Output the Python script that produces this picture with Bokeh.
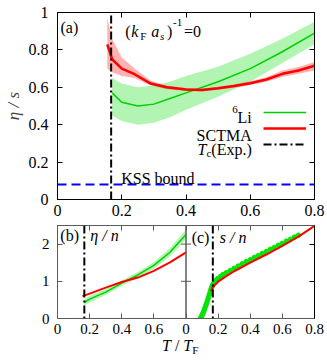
import numpy as np
from bokeh.plotting import figure
from bokeh.models import (Range1d, LinearAxis, FixedTicker, Span, Label, Legend,
                          LegendItem, PrintfTickFormatter, CustomJSTickFormatter, Div, Spacer)
from bokeh.layouts import column, row
from bokeh.embed import file_html
from bokeh.resources import INLINE

FONT = "Liberation Serif"
AXFONT = "'Liberation Serif', serif"

# ---------------- data ----------------
TC_EXP = 0.167
KSS_BOUND = 0.0796

# panel (a): eta/s
T_LI_A = [0.17, 0.20, 0.25, 0.30, 0.35, 0.40, 0.50, 0.60, 0.70, 0.80]
ETA_S_LI = [0.57, 0.52, 0.50, 0.51, 0.54, 0.57, 0.63, 0.70, 0.79, 0.89]
ETA_S_LI_LO = [0.45, 0.42, 0.40, 0.41, 0.44, 0.48, 0.55, 0.63, 0.73, 0.83]
ETA_S_LI_HI = [0.65, 0.62, 0.60, 0.61, 0.63, 0.66, 0.71, 0.78, 0.86, 0.95]

T_SC_A = [0.155, 0.17, 0.20, 0.24, 0.29, 0.34, 0.40, 0.45, 0.50, 0.55, 0.60, 0.65, 0.70, 0.75, 0.80]
ETA_S_SC = [0.83, 0.75, 0.70, 0.67, 0.62, 0.60, 0.588, 0.585, 0.595, 0.607, 0.622, 0.642, 0.672, 0.69, 0.715]
ETA_S_SC_LO = [0.70, 0.68, 0.66, 0.65, 0.61, 0.59, 0.58, 0.577, 0.587, 0.598, 0.612, 0.63, 0.655, 0.672, 0.69]
ETA_S_SC_HI = [0.97, 0.86, 0.76, 0.70, 0.635, 0.61, 0.596, 0.593, 0.603, 0.616, 0.632, 0.654, 0.69, 0.708, 0.735]

# panel (b): eta/n
T_LI_B = [0.167, 0.2, 0.3, 0.4, 0.5, 0.6, 0.7, 0.8]
ETA_N_LI = [0.43, 0.52, 0.71, 0.95, 1.17, 1.43, 1.78, 2.26]
ETA_N_LI_LO = [0.34, 0.43, 0.63, 0.88, 1.09, 1.34, 1.67, 2.13]
ETA_N_LI_HI = [0.52, 0.61, 0.79, 1.02, 1.25, 1.52, 1.89, 2.39]
T_SC_B = [0.155, 0.2, 0.3, 0.4, 0.5, 0.6, 0.7, 0.8]
ETA_N_SC = [0.60, 0.67, 0.83, 0.98, 1.10, 1.28, 1.51, 1.78]

# panel (c): s/n
T_SC_C = [0.155, 0.17, 0.2, 0.25, 0.3, 0.4, 0.5, 0.6, 0.7, 0.8]
S_N_SC = [0.74, 0.86, 0.99, 1.14, 1.27, 1.50, 1.72, 1.95, 2.20, 2.49]
T_LI_C = [0.090, 0.095, 0.100, 0.105, 0.110, 0.115, 0.120, 0.125, 0.130, 0.135,
          0.140, 0.145, 0.150, 0.155, 0.160, 0.165, 0.170, 0.180, 0.190, 0.200,
          0.215, 0.230, 0.250, 0.275, 0.300, 0.325, 0.350, 0.375, 0.400, 0.425,
          0.450, 0.475, 0.500, 0.525, 0.550, 0.575, 0.600, 0.625, 0.650, 0.675, 0.700]
S_N_LI = [0.00, 0.04, 0.09, 0.14, 0.19, 0.25, 0.31, 0.37, 0.43, 0.50,
          0.57, 0.64, 0.71, 0.78, 0.84, 0.89, 0.93, 0.99, 1.04, 1.08,
          1.13, 1.18, 1.23, 1.29, 1.35, 1.41, 1.47, 1.53, 1.58, 1.64,
          1.69, 1.75, 1.80, 1.86, 1.91, 1.97, 2.02, 2.08, 2.13, 2.19, 2.24]

X_TICKS = [0, 0.2, 0.4, 0.6, 0.8]
Y_TICKS_A = [0, 0.2, 0.4, 0.6, 0.8, 1]
Y_TICKS_BC = [0, 1, 2]
Y_MAX_BC = 2.5

# ---------------- style ----------------
GREEN = "#00d000"
GREEN_DOT = "#00e600"
RED = "#ff0000"
GRAY = "#5a5a5a"
TC_DASH = "8 3 2 3"

W = 327
# frame geometry (page pixels)
A_L, A_R, A_T, A_B = 56, 314, 12, 199
A_H = 225
B_L, B_R, B_T, B_B = 40, 314, 225, 318
B_H = 116
X_MAX = X_TICKS[-1]


def a_xy(px, py):
    return (px - A_L) / (A_R - A_L) * X_MAX, (A_B - py) / (A_B - A_T) * Y_TICKS_A[-1]


def bc_xy(px, py):
    return (px - B_L) / (B_R - B_L) * (2 * X_MAX), (B_B - py) / (B_B - B_T) * Y_MAX_BC


def lab(p, conv, px, py, text, size=16, style="normal", align="left", baseline="alphabetic"):
    x, y = conv(px, py)
    p.add_layout(Label(x=x, y=y, text=text, text_font=FONT, text_font_size=f"{size}px",
                       text_font_style=style, text_align=align, text_baseline=baseline,
                       text_color="black"))


def blank_axis(ticks, color):
    return LinearAxis(ticker=FixedTicker(ticks=ticks),
                      formatter=CustomJSTickFormatter(code="return ''"),
                      major_label_text_font_size="0px", major_label_standoff=0,
                      major_tick_in=5, major_tick_out=0, minor_tick_line_color=None,
                      axis_line_color=color, major_tick_line_color=color)


def style_axis(ax, size, color):
    ax.formatter = PrintfTickFormatter(format="%g")
    ax.major_label_text_font = AXFONT
    ax.major_label_text_font_size = size
    ax.major_label_text_color = "black"
    ax.major_tick_in = 5
    ax.major_tick_out = 0
    ax.minor_tick_line_color = None
    ax.axis_line_color = color
    ax.major_tick_line_color = color


# ---------------- panel (a) ----------------
pa = figure(width=W, height=A_H, x_range=Range1d(0, X_MAX), y_range=Range1d(0, Y_TICKS_A[-1]),
            output_backend="svg", toolbar_location=None,
            min_border_left=A_L, min_border_right=W - A_R,
            min_border_top=A_T, min_border_bottom=A_H - A_B)
pa.grid.visible = False
pa.outline_line_color = "black"
pa.xaxis.ticker = FixedTicker(ticks=X_TICKS)
pa.yaxis.ticker = FixedTicker(ticks=Y_TICKS_A)
style_axis(pa.xaxis[0], "16px", "black")
style_axis(pa.yaxis[0], "16px", "black")
pa.xaxis.major_label_standoff = 5
pa.yaxis.major_label_standoff = 9
pa.yaxis.axis_label = "η / s"
pa.yaxis.axis_label_text_font = AXFONT
pa.yaxis.axis_label_text_font_size = "17px"
pa.yaxis.axis_label_text_font_style = "italic"
pa.yaxis.axis_label_standoff = 3
pa.add_layout(blank_axis(X_TICKS, "black"), "above")
pa.add_layout(blank_axis(Y_TICKS_A, "black"), "right")

pa.varea(x=T_LI_A, y1=ETA_S_LI_LO, y2=ETA_S_LI_HI, fill_color="#00dd00", fill_alpha=0.3)
pa.varea(x=T_SC_A, y1=ETA_S_SC_LO, y2=ETA_S_SC_HI, fill_color=RED, fill_alpha=0.3)
g_a = pa.line(T_LI_A, ETA_S_LI, line_color=GREEN, line_width=1.5)
r_a = pa.line(T_SC_A, ETA_S_SC, line_color=RED, line_width=2.5)
pa.add_layout(Span(location=KSS_BOUND, dimension="width", line_color="#0000ff",
                   line_dash="9 5", line_width=2))
tc_a = pa.line([TC_EXP, TC_EXP], [Y_TICKS_A[0], Y_TICKS_A[-1]], line_color="black",
               line_dash=TC_DASH, line_width=2)

legend = Legend(items=[LegendItem(label=" ", renderers=[g_a]),
                       LegendItem(label=" ", renderers=[r_a]),
                       LegendItem(label=" ", renderers=[tc_a])],
                location=(262 - A_L, A_B - 152), glyph_width=43, glyph_height=16,
                label_width=0, label_height=16, label_standoff=0, spacing=0, padding=0,
                margin=0, border_line_color=None, background_fill_alpha=0,
                label_text_font_size="1px")
pa.add_layout(legend)

# texts in panel (a)
lab(pa, a_xy, 59, 27, "(a)")
lab(pa, a_xy, 124, 31, "(")
lab(pa, a_xy, 130, 31, "k", style="italic")
lab(pa, a_xy, 139, 35, "F", size=11)
lab(pa, a_xy, 150, 31, "a", style="italic")
lab(pa, a_xy, 159, 35, "s", size=11, style="italic")
lab(pa, a_xy, 166, 31, ")")
lab(pa, a_xy, 172, 22, "-1", size=11)
lab(pa, a_xy, 183, 31, "=0")
lab(pa, a_xy, 120, 178, "KSS bound")
lab(pa, a_xy, 251, 117, "Li", align="right")
lab(pa, a_xy, 237, 109, "6", size=11, align="right")
lab(pa, a_xy, 251, 134.5, "SCTMA", align="right")
lab(pa, a_xy, 251, 149, "(Exp.)", align="right")
lab(pa, a_xy, 210.5, 152, "c", size=11, align="right")
lab(pa, a_xy, 205.5, 149, "T", style="italic", align="right")

# ---------------- panels (b) and (c) ----------------
pb = figure(width=W, height=B_H, x_range=Range1d(0, 2 * X_MAX), y_range=Range1d(0, Y_MAX_BC),
            output_backend="svg", toolbar_location=None,
            min_border_left=B_L, min_border_right=W - B_R,
            min_border_top=0, min_border_bottom=B_H - (B_B - B_T))
pb.extra_x_ranges = {"c": Range1d(-X_MAX, X_MAX)}
pb.grid.visible = False
pb.outline_line_color = GRAY

bottom_ticks = [t for t in X_TICKS[:-1]] + [round(X_MAX + t, 2) for t in X_TICKS]
overrides = {round(X_MAX + t, 2): f"{t:g}" for t in X_TICKS}
pb.xaxis.ticker = FixedTicker(ticks=bottom_ticks)
pb.yaxis.ticker = FixedTicker(ticks=Y_TICKS_BC)
style_axis(pb.xaxis[0], "15px", GRAY)
style_axis(pb.yaxis[0], "15px", GRAY)
pb.xaxis.major_label_overrides = overrides
pb.xaxis.major_label_standoff = 5
pb.yaxis.major_label_standoff = 8
pb.add_layout(blank_axis(bottom_ticks, GRAY), "above")
pb.add_layout(blank_axis(Y_TICKS_BC[1:], "black"), "right")

# panel (b) curves
pb.varea(x=T_LI_B, y1=ETA_N_LI_LO, y2=ETA_N_LI_HI, fill_color="#00dd00", fill_alpha=0.3)
pb.line(T_LI_B, ETA_N_LI, line_color=GREEN, line_width=1.5)
pb.line(T_SC_B, ETA_N_SC, line_color=RED, line_width=2)
pb.add_layout(Span(location=TC_EXP, dimension="height", line_color="black",
                   line_dash=TC_DASH, line_width=2))

# panel (c) curves, on its own T scale
pb.add_layout(Span(location=0, dimension="height", line_color=GRAY, line_width=1.5,
                   x_range_name="c"))
pb.scatter(x=[0] * len(Y_TICKS_BC[1:]), y=Y_TICKS_BC[1:], marker="dash", size=10,
           line_color=GRAY, line_width=1, x_range_name="c")
pb.scatter(T_LI_C, S_N_LI, marker="circle", size=4.5, fill_color=GREEN_DOT, line_color=GREEN_DOT,
           x_range_name="c")
pb.line(T_SC_C, S_N_SC, line_color=RED, line_width=2, x_range_name="c")
pb.add_layout(Span(location=TC_EXP, dimension="height", line_color="black",
                   line_dash=TC_DASH, line_width=2, x_range_name="c"))

lab(pb, bc_xy, 43, 235, "(b)")
lab(pb, bc_xy, 75, 235, "η / n", style="italic")
lab(pb, bc_xy, 183, 237, "(c)")
lab(pb, bc_xy, 213, 237, "s / n", style="italic")

# x-axis title shared by (b) and (c)
xlabel = Div(text='<i>T</i> / <i>T</i><sub style="font-size:11px; vertical-align:-3px">F</sub>',
             width=120, height=363 - A_H - B_H, margin=0,
             styles={"font-family": FONT, "font-size": "16px", "line-height": "10px",
                     "color": "black", "white-space": "nowrap"})
bottom = row(Spacer(width=162, height=363 - A_H - B_H, margin=0), xlabel, spacing=0)

layout = column(pa, pb, bottom, spacing=0)
open("out.html", "w").write(file_html(layout, INLINE))
